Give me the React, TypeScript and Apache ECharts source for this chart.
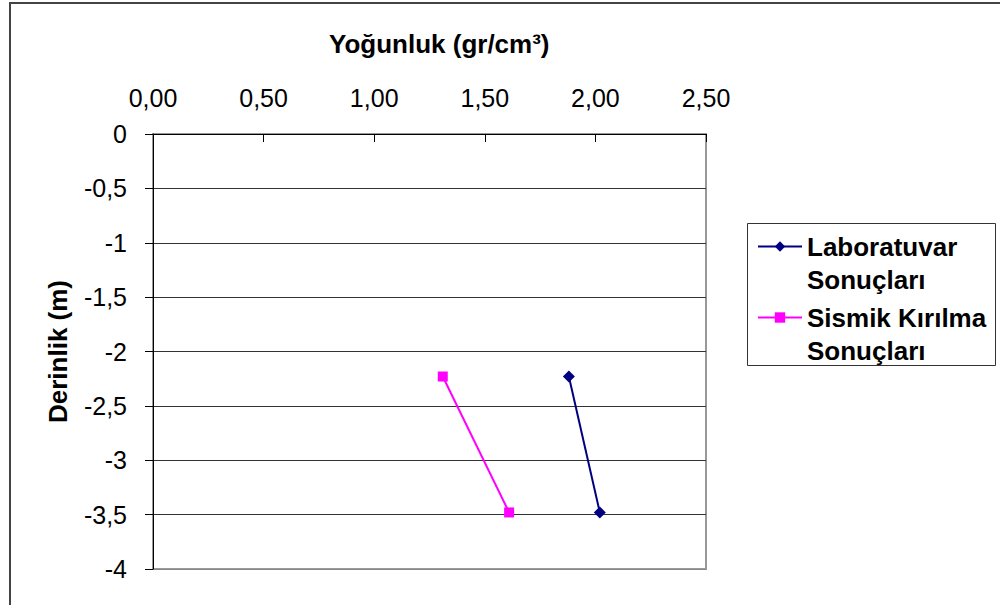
import React, { useEffect, useRef } from "react";
import * as echarts from "echarts";

const seriesNames = ["Laboratuvar Sonuçları", "Sismik Kırılma Sonuçları"];
const labDensity = [1.88, 2.02];
const labDepth = [-2.23, -3.48];
const seisDensity = [1.31, 1.61];
const seisDepth = [-2.23, -3.48];
const xTitle = "Yoğunluk (gr/cm³)";
const yTitle = "Derinlik (m)";

const FONT = "'Liberation Sans', Arial, sans-serif";

export default function App() {
  const ref = useRef<HTMLDivElement>(null);
  useEffect(() => {
    if (!ref.current) return;
    const chart = echarts.init(ref.current, null, { renderer: "svg" });
    const pairs = (xs: number[], ys: number[]) => xs.map((x, i) => [x, ys[i]]);
    chart.setOption({
      animation: false,
      backgroundColor: "#ffffff",
      textStyle: { fontFamily: FONT },
      title: {
        text: xTitle,
        left: 329,
        top: 31,
        padding: 0,
        textStyle: { fontFamily: FONT, fontSize: 26, fontWeight: "bold", color: "#000" },
      },
      graphic: [
        {
          type: "rect",
          shape: { x: 10, y: 3, width: 1000, height: 620 },
          style: { fill: "none", stroke: "#444", lineWidth: 2 },
          silent: true,
        },
        {
          type: "rect",
          shape: { x: 747.5, y: 223.5, width: 248, height: 142 },
          style: { fill: "none", stroke: "#333", lineWidth: 1 },
          silent: true,
        },
      ],
      legend: {
        orient: "vertical",
        left: 757,
        top: 197,
        padding: 0,
        itemGap: -28,
        itemWidth: 44,
        itemHeight: 13,
        data: seriesNames,
        formatter: (name: string) => {
          const idx = name.lastIndexOf(" ");
          return "\n" + name.slice(0, idx) + "\n" + name.slice(idx + 1);
        },
        textStyle: {
          fontFamily: FONT,
          fontSize: 26,
          fontWeight: "bold",
          color: "#000",
          lineHeight: 33,
        },
      },
      grid: {
        left: 153,
        top: 134,
        width: 553,
        height: 435,
        show: true,
        borderColor: "#999",
        borderWidth: 2,
        backgroundColor: "#fff",
      },
      xAxis: {
        type: "value",
        position: "top",
        min: 0,
        max: 2.5,
        interval: 0.5,
        axisLine: { show: true, lineStyle: { color: "#000", width: 1 } },
        axisTick: { show: true, inside: true, length: 8, lineStyle: { color: "#000" } },
        splitLine: { show: false },
        axisLabel: {
          margin: 24,
          fontFamily: FONT,
          fontSize: 25,
          color: "#000",
          formatter: (v: number) => v.toFixed(2).replace(".", ","),
        },
      },
      yAxis: {
        type: "value",
        min: -4,
        max: 0,
        interval: 0.5,
        name: yTitle,
        nameLocation: "middle",
        nameGap: 82,
        nameTextStyle: { fontFamily: FONT, fontSize: 26, fontWeight: "bold", color: "#000" },
        axisLine: { show: true, onZero: false, lineStyle: { color: "#000", width: 1 } },
        axisTick: { show: true, length: 8, lineStyle: { color: "#000" } },
        splitLine: {
          show: true,
          lineStyle: {
            color: ["#888", "#333", "#333", "#333", "#333", "#333", "#333", "#333", "#333"],
            width: 1,
          },
        },
        axisLabel: {
          margin: 26,
          fontFamily: FONT,
          fontSize: 25,
          color: "#000",
          formatter: (v: number) => String(v).replace(".", ","),
        },
      },
      series: [
        {
          name: seriesNames[0],
          type: "line",
          data: pairs(labDensity, labDepth),
          symbol: "diamond",
          symbolSize: 12,
          itemStyle: { color: "#000080" },
          lineStyle: { color: "#000080", width: 2 },
        },
        {
          name: seriesNames[1],
          type: "line",
          data: pairs(seisDensity, seisDepth),
          symbol: "rect",
          symbolSize: 10,
          itemStyle: { color: "#ff00ff" },
          lineStyle: { color: "#ff00ff", width: 2 },
        },
      ],
    });
    return () => chart.dispose();
  }, []);
  return (
    <div
      ref={ref}
      style={{ position: "absolute", left: 0, top: 0, width: 1000, height: 605 }}
    />
  );
}
